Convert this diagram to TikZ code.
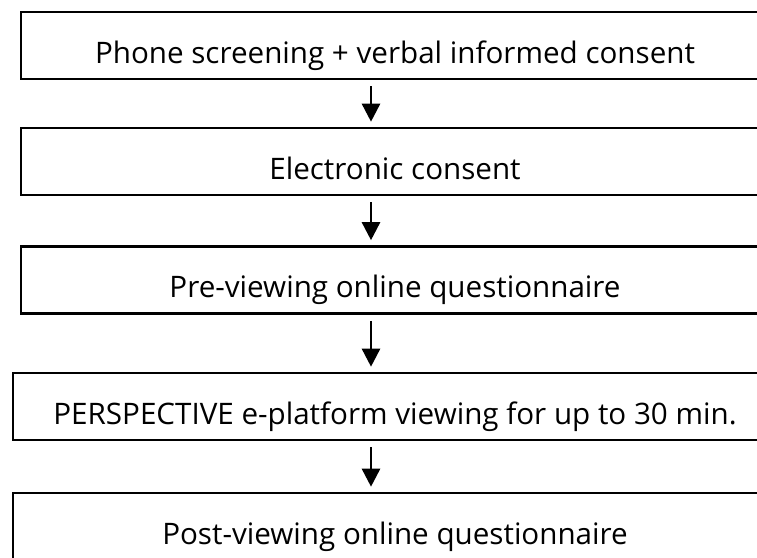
\documentclass[tikz,border=0pt]{standalone}
\usepackage{fontspec}
\setmainfont{Open Sans}
\usetikzlibrary{arrows.meta}
\tikzset{stepbox/.style = {shape=rectangle,draw,line width=2.6pt,minimum width=748pt,
    inner xsep=0pt,inner ysep=0pt,text height=51pt,text depth=16pt,
    font=\fontsize{29.6}{34}\selectfont},
  widebox/.style = {stepbox,minimum width=764pt},
  flow/.style = {line width=2.6pt,-{Triangle[width=18pt,length=18pt]}}}

\begin{document}
\begin{tikzpicture}[x=1pt,y=-1pt]
                    \clip (0,0) rectangle (757,557);
                    \useasboundingbox (0,0) rectangle (757,557);

                    \node[stepbox] (screen) at (395,45.5) {Phone screening + verbal informed consent};
                    \node[stepbox] (econsent) at (395,161.5) {Electronic consent};
                    \node[stepbox] (prequest) at (395,280) {Pre-viewing online questionnaire};
                    \node[widebox] (viewing) at (395,406.5) {PERSPECTIVE e-platform viewing for up to 30 min.};
                    \node[widebox] (postquest) at (395,526.5) {Post-viewing online questionnaire};

                    \foreach \a/\b in {screen/econsent,econsent/prequest,prequest/viewing,viewing/postquest} {
                      \draw[flow] ([xshift=-24pt,yshift=-6pt]\a.south) -- ([xshift=-24pt,yshift=5pt]\b.north);
                    }
                  \end{tikzpicture}
\end{document}
